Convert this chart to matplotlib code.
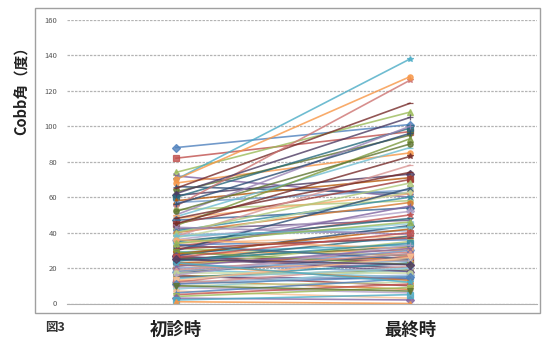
import matplotlib
matplotlib.use("Agg")
import matplotlib.pyplot as plt
from matplotlib.patches import Rectangle

plt.rcParams['font.family'] = ['Noto Sans CJK JP', 'DejaVu Sans']

categories = ["初診時", "最終時"]
initial = [88, 82, 74, 72, 70, 68, 66, 65, 63, 61, 60, 58, 57, 55, 53, 50, 49, 48, 47, 45,
           44, 42, 41, 40, 39, 38, 37, 36, 35, 34, 33, 32, 31, 30, 29, 28, 27, 26, 25, 25,
           24, 23, 22, 22, 21, 20, 19, 18, 17, 16, 15, 15, 14, 13, 12, 11, 10, 9, 8, 7,
           6, 5, 4, 3, 2, 1, 30, 45, 52, 62, 35, 28, 18, 12, 40,
           43, 38, 36, 33, 31, 29, 27, 24, 22, 20, 19, 17, 16, 14, 13, 11, 26, 34, 21, 23,
           70, 56, 48, 10, 25]
final = [101, 97, 108, 60, 138, 85, 62, 113, 95, 73, 99, 71, 64, 126, 58, 100, 88, 62, 54, 70,
         93, 47, 60, 57, 41, 78, 63, 52, 45, 38, 36, 50, 27, 55, 33, 30, 44, 24, 32, 20,
         38, 26, 18, 29, 35, 22, 15, 25, 28, 10, 19, 14, 23, 8, 16, 21, 12, 6, 20, 3,
         14, 11, 9, 2, 5, 0, 65, 83, 90, 105, 48, 42, 30, 27, 68,
         39, 43, 31, 25, 37, 22, 18, 34, 13, 24, 28, 17, 33, 20, 26, 15, 40, 46, 31, 12,
         128, 96, 74, 7, 22]
yticks = [0, 20, 40, 60, 80, 100, 120, 140, 160]

palette = ["#4F81BD", "#C0504D", "#9BBB59", "#8064A2", "#4BACC6", "#F79646",
           "#2C4D75", "#772C2A", "#5F7530", "#4D3B62", "#276A7C", "#B65708",
           "#729ACA", "#CD7371", "#AFC97A", "#9983B5", "#6FBDD1", "#F9AB6B",
           "#3A6595", "#9C3A38", "#7D9A3F", "#664F83", "#358DA3", "#D77A30",
           "#95B3D7", "#D99694", "#C3D69B", "#B3A2C7", "#93CDDD", "#FAC090"]
markers = ["D", "s", "^", "x", "*", "o", "+", "_", "v"]

W, H = 544, 343
fig = plt.figure(figsize=(W / 100, H / 100), dpi=100)
fig.patches.append(Rectangle((35 / W, 1 - 313 / H), (540 - 35) / W, (313 - 8) / H,
                             transform=fig.transFigure, fill=False,
                             edgecolor="#a0a0a0", linewidth=1.0))
ax = fig.add_axes([67 / W, 1 - 303.5 / H, (537 - 67) / W, (303.5 - 20) / H])

for i, (a, b) in enumerate(zip(initial, final)):
    c = palette[i % len(palette)]
    m = markers[i % len(markers)]
    ax.plot([0, 1], [a, b], color=c, linewidth=1.2, alpha=0.8,
            marker=m, markersize=3.8, markeredgewidth=0.9)

ax.set_ylim(0, 160)
ax.set_xlim(-0.466, 1.543)
ax.set_yticks(yticks)
ax.set_yticklabels([str(t) for t in yticks], fontsize=5.5, color="#555555")
ax.set_xticks([])
ax.tick_params(axis='y', length=0, pad=7)
ax.grid(axis='y', color="#b4b4b4", linewidth=0.9, linestyle=(0, (2, 1)))
ax.set_axisbelow(True)
for s in ["top", "right", "left"]:
    ax.spines[s].set_visible(False)
ax.spines["bottom"].set_color("#b0b0b0")

for xi, lab in enumerate(categories):
    px = 176 + xi * 234
    fig.text(px / W, 1 - 330 / H, lab, ha="center", va="center",
             fontsize=12.5, fontweight="bold", color="#222222")
fig.text(55 / W, 1 - 328 / H, "図3", ha="center", va="center",
         fontsize=9, fontweight="bold", color="#333333")
fig.text(21 / W, 1 - 87 / H, "Cobb角（度）", ha="center", va="center",
         rotation=90, fontsize=10.5, fontweight="bold", color="#222222")

fig.savefig("out.png", dpi=100)
